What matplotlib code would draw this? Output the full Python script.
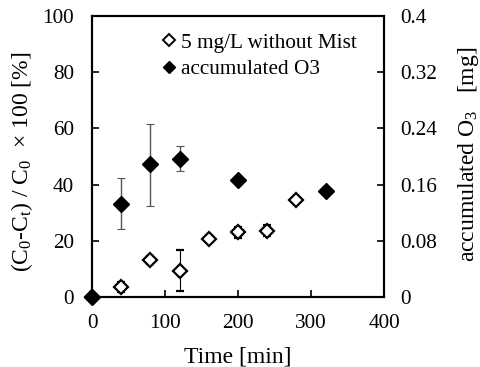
import matplotlib
matplotlib.use("Agg")
import matplotlib.pyplot as plt
from matplotlib.lines import Line2D

plt.rcParams['font.family'] = ['Liberation Serif', 'DejaVu Serif']
plt.rcParams['mathtext.fontset'] = 'custom'
plt.rcParams['mathtext.rm'] = 'Liberation Serif'
plt.rcParams['mathtext.it'] = 'Liberation Serif'

# 5 mg/L without Mist (left axis, %)
t_open = [0, 40, 80, 120, 160, 200, 240, 280]
y_open = [0, 3.7, 13.2, 9.4, 20.6, 23.0, 23.6, 34.6]
e_open = [0, 1.8, 1.5, 7.2, 1.2, 2.0, 2.0, 0.8]

# accumulated O3 (right axis, mg)
t_fill = [0, 40, 80, 120, 200, 320]
y_fill = [0, 0.133, 0.189, 0.197, 0.166, 0.151]
e_fill_lo = [0, 0.036, 0.059, 0.018, 0, 0]
e_fill_hi = [0, 0.036, 0.057, 0.018, 0, 0]

xticks = [0, 100, 200, 300, 400]
yticks_left = [0, 20, 40, 60, 80, 100]
yticks_right = [0, 0.08, 0.16, 0.24, 0.32, 0.4]
yticklabels_right = ['0', '0.08', '0.16', '0.24', '0.32', '0.4']

fs = 15.3
lfs = 17
fig = plt.figure(figsize=(4.8, 3.67), dpi=100)
ax = fig.add_axes([92/480, 1-297/367, 292/480, 281/367])
ax2 = ax.twinx()

ax.errorbar(t_open, y_open, yerr=e_open, fmt='D', ms=7.5, mfc='white', mec='black',
            mew=1.6, ecolor='black', elinewidth=0.8, capsize=3, capthick=0.8,
            zorder=3, clip_on=False)
ax2.errorbar(t_fill, y_fill, yerr=[e_fill_lo, e_fill_hi], fmt='D', ms=8.5, mfc='black',
             mec='black', ecolor='#555555', elinewidth=1.0, capsize=3, capthick=0.8,
             zorder=3, clip_on=False)

ax.set_xlim(0, 400)
ax.set_ylim(0, 100)
ax2.set_ylim(0, 0.4)
ax.set_xticks(xticks)
ax.set_yticks(yticks_left)
ax2.set_yticks(yticks_right)
ax2.set_yticklabels(yticklabels_right)

for a in (ax, ax2):
    a.tick_params(direction='in', length=5, width=1.2, labelsize=fs)
    for s in a.spines.values():
        s.set_linewidth(1.5)
ax.tick_params(axis='y', pad=13)
ax.tick_params(axis='x', pad=12)
ax2.tick_params(axis='y', pad=12)

ax.set_xlabel('Time [min]', fontsize=lfs)
ax.xaxis.set_label_coords(0.5, (297 - 346) / 281)
ax.set_ylabel('(C$_0$-C$_\\mathrm{t}$) / C$_0$  \u00d7 100 [%]', fontsize=lfs)
ax.yaxis.set_label_coords((35 - 92) / 292, (297 - 162) / 281)
ax2.set_ylabel('accumulated O$_3$   [mg]', fontsize=lfs)
ax2.yaxis.set_label_coords((456 - 92) / 292, (297 - 154) / 281)

h1 = Line2D([], [], ls='none', marker='D', ms=6, mfc='white', mec='black', mew=1.4)
h2 = Line2D([], [], ls='none', marker='D', ms=6.5, mfc='black', mec='black')
leg = ax2.legend([h1, h2], ['5 mg/L without Mist', 'accumulated O3'], loc='upper left',
                 bbox_to_anchor=(0.215, 0.97), frameon=False, fontsize=fs,
                 handlelength=0.5, handletextpad=0.35, labelspacing=0.3, borderaxespad=0)

fig.savefig('out.png', dpi=100)
